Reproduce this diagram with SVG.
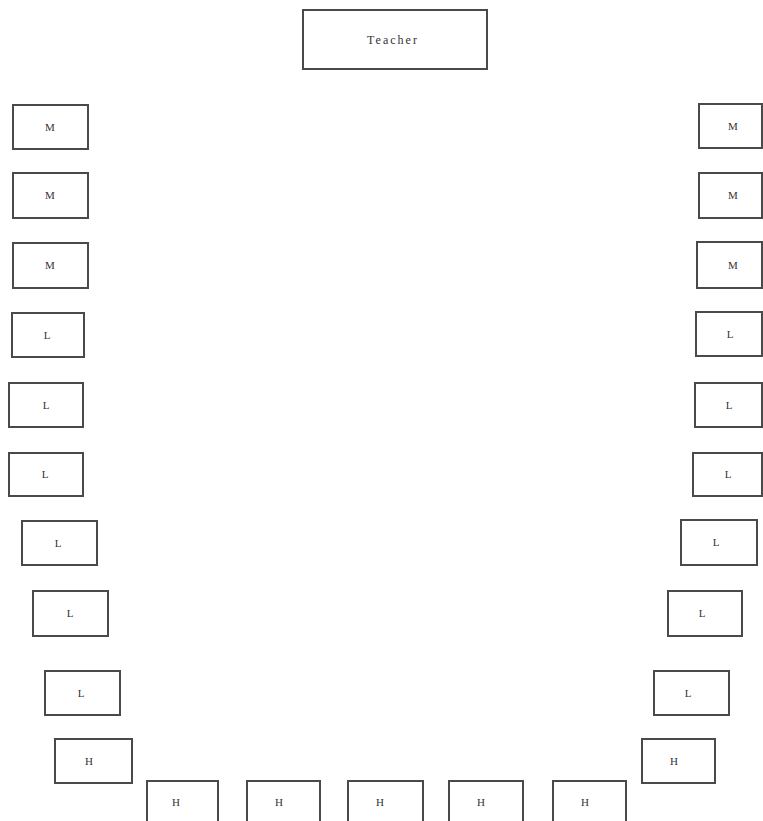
<svg xmlns="http://www.w3.org/2000/svg" width="763" height="821" viewBox="0 0 763 821">
<style>
rect{fill:#fff;stroke:#4a4a4a;stroke-width:2}
text{font-family:"Liberation Serif","DejaVu Serif",serif;font-size:11px;fill:#333;text-anchor:middle}
.t{font-size:12px;letter-spacing:2px}
</style>
<rect x="0" y="0" width="763" height="821" style="fill:#fff;stroke:none"/>
<g id="teacher"><rect x="303" y="10" width="184" height="59"/><text class="t" x="393" y="44">Teacher</text></g>
<g id="l1"><rect x="13" y="105" width="75" height="44"/><text x="50" y="131">M</text></g>
<g id="l2"><rect x="13" y="173" width="75" height="45"/><text x="50" y="199">M</text></g>
<g id="l3"><rect x="13" y="243" width="75" height="45"/><text x="50" y="269">M</text></g>
<g id="l4"><rect x="12" y="313" width="72" height="44"/><text x="47" y="339">L</text></g>
<g id="l5"><rect x="9" y="383" width="74" height="44"/><text x="46" y="409">L</text></g>
<g id="l6"><rect x="9" y="453" width="74" height="43"/><text x="45" y="478">L</text></g>
<g id="l7"><rect x="22" y="521" width="75" height="44"/><text x="58" y="547">L</text></g>
<g id="l8"><rect x="33" y="591" width="75" height="45"/><text x="70" y="617">L</text></g>
<g id="l9"><rect x="45" y="671" width="75" height="44"/><text x="81" y="697">L</text></g>
<g id="l10"><rect x="55" y="739" width="77" height="44"/><text x="89" y="765">H</text></g>
<g id="b1"><rect x="147" y="781" width="71" height="45"/><text x="176" y="806">H</text></g>
<g id="b2"><rect x="247" y="781" width="73" height="45"/><text x="279" y="806">H</text></g>
<g id="b3"><rect x="348" y="781" width="75" height="45"/><text x="380" y="806">H</text></g>
<g id="b4"><rect x="449" y="781" width="74" height="45"/><text x="481" y="806">H</text></g>
<g id="b5"><rect x="553" y="781" width="73" height="45"/><text x="585" y="806">H</text></g>
<g id="r10"><rect x="642" y="739" width="73" height="44"/><text x="674" y="765">H</text></g>
<g id="r9"><rect x="654" y="671" width="75" height="44"/><text x="688" y="697">L</text></g>
<g id="r8"><rect x="668" y="591" width="74" height="45"/><text x="702" y="617">L</text></g>
<g id="r7"><rect x="681" y="520" width="76" height="45"/><text x="716" y="546">L</text></g>
<g id="r6"><rect x="693" y="453" width="69" height="43"/><text x="728" y="478">L</text></g>
<g id="r5"><rect x="695" y="383" width="67" height="44"/><text x="729" y="409">L</text></g>
<g id="r4"><rect x="696" y="312" width="66" height="44"/><text x="730" y="338">L</text></g>
<g id="r3"><rect x="697" y="242" width="65" height="46"/><text x="733" y="269">M</text></g>
<g id="r2"><rect x="699" y="173" width="63" height="45"/><text x="733" y="199">M</text></g>
<g id="r1"><rect x="699" y="104" width="63" height="44"/><text x="733" y="130">M</text></g>
<g id="connectors"></g>
</svg>
